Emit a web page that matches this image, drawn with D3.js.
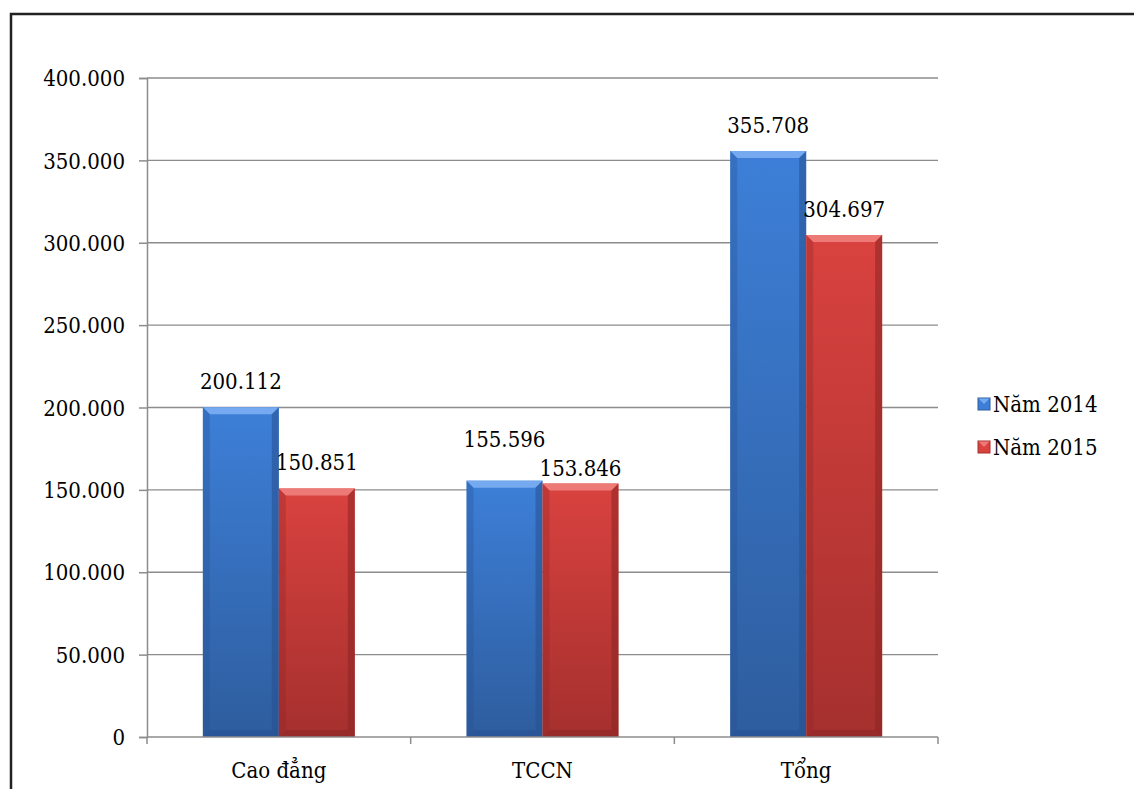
<!DOCTYPE html>
<html>
<head>
<meta charset="utf-8">
<script src="https://cdn.jsdelivr.net/npm/d3@7"></script>
<style>
  html, body { margin: 0; padding: 0; background: #fff; }
  svg { display: block; }
  svg text { font-stretch: condensed; }
</style>
</head>
<body>
<svg id="chart" width="1134" height="789"></svg>
<script>
// Số liệu tuyển sinh
const categories = ["Cao đẳng", "TCCN", "Tổng"];
const seriesNames = ["Năm 2014", "Năm 2015"];
const values2014 = [200112, 155596, 355708];
const values2015 = [150851, 153846, 304697];
const yTicks = [0, 50000, 100000, 150000, 200000, 250000, 300000, 350000, 400000];

const FONT = "'DejaVu Serif Condensed', 'DejaVu Serif', serif";
const FS = 22;

const series = [values2014, values2015];
const palette = [
  { mid: "#3d7fd8", dark: "#2e5d9e", edge: "#26508f", top: "#75aaf0" },
  { mid: "#d9423f", dark: "#a5302e", edge: "#8a2523", top: "#ee7a77" }
];

const svg = d3.select("#chart").attr("font-family", FONT);
const margin = { left: 147, right: 196, top: 78, bottom: 52 };
const W = 1134, H = 789;

// outer frame
svg.append("rect")
  .attr("x", 11).attr("y", 14)
  .attr("width", 1140).attr("height", 800)
  .attr("fill", "none").attr("stroke", "#222").attr("stroke-width", 2.5);

const x = d3.scaleBand().domain(categories)
  .range([margin.left, W - margin.right]).paddingInner(0).paddingOuter(0);
const inner = d3.scaleBand().domain(d3.range(series.length))
  .range([0, x.bandwidth()]).paddingInner(0).paddingOuter(0.735);
const y = d3.scaleLinear().domain([0, 400000]).range([H - margin.bottom, margin.top]);

const fmt = v => d3.format(",")(v).replace(/,/g, ".");

// gridlines
svg.append("g").selectAll("line").data(yTicks.filter(t => t > 0)).join("line")
  .attr("x1", margin.left).attr("x2", W - margin.right)
  .attr("y1", d => y(d)).attr("y2", d => y(d))
  .attr("stroke", "#8c8c8c").attr("stroke-width", 1.3);

// gradients
const defs = svg.append("defs");
palette.forEach((p, i) => {
  const g = defs.append("linearGradient").attr("id", "fill" + i)
    .attr("x1", 0).attr("y1", 0).attr("x2", 0).attr("y2", 1);
  g.append("stop").attr("offset", "0%").attr("stop-color", p.mid);
  g.append("stop").attr("offset", "100%").attr("stop-color", p.dark);
});

// bars with bevelled edges
const bev = 7;
const labelGap = 18;
const barsG = svg.append("g");
const labelsG = svg.append("g");
categories.forEach((c, ci) => {
  const labels = [];
  series.forEach((vals, si) => {
    const p = palette[si];
    const x0 = x(c) + inner(si), w = inner.bandwidth();
    const x1 = x0 + w;
    const yt = y(vals[ci]), yb = y(0);
    const g = barsG.append("g");
    g.append("rect").attr("x", x0).attr("y", yt).attr("width", w).attr("height", yb - yt)
      .attr("fill", `url(#fill${si})`);
    g.append("path").attr("d", `M${x0},${yt}L${x1},${yt}L${x1 - bev},${yt + bev}L${x0 + bev},${yt + bev}Z`)
      .attr("fill", p.top);
    g.append("path").attr("d", `M${x0},${yt}L${x0 + bev},${yt + bev}L${x0 + bev},${yb - bev}L${x0},${yb}Z`)
      .attr("fill", p.edge).attr("opacity", 0.3);
    g.append("path").attr("d", `M${x1},${yt}L${x1 - bev},${yt + bev}L${x1 - bev},${yb - bev}L${x1},${yb}Z`)
      .attr("fill", p.edge).attr("opacity", 0.55);
    g.append("path").attr("d", `M${x0},${yb}L${x0 + bev},${yb - bev}L${x1 - bev},${yb - bev}L${x1},${yb}Z`)
      .attr("fill", p.edge).attr("opacity", 0.5);
    const t = labelsG.append("text").attr("x", x0 + w / 2).attr("y", yt - labelGap)
      .attr("text-anchor", "middle").attr("font-size", FS)
      .attr("fill", "#000").text(fmt(vals[ci]));
    labels.push({ t, y: yt - labelGap });
  });
  // keep neighbouring value labels from colliding
  const [a, b] = labels;
  const ba = a.t.node().getBBox(), bb = b.t.node().getBBox();
  const hOverlap = ba.x + ba.width > bb.x - 2;
  const need = ba.height + 4;
  if (hOverlap && Math.abs(a.y - b.y) < need) {
    const mid = (a.y + b.y) / 2;
    const upper = a.y <= b.y ? a : b, lower = upper === a ? b : a;
    upper.t.attr("y", mid - need * 0.6);
    lower.t.attr("y", mid + need * 0.4);
  }
});

// y axis
const yAxis = d3.axisLeft(y).tickValues(yTicks).tickSize(8).tickPadding(14).tickFormat(fmt);
const ya = svg.append("g").attr("transform", `translate(${margin.left},0)`).call(yAxis);
ya.attr("font-family", FONT).attr("font-size", FS);
ya.select(".domain").attr("stroke", "#8c8c8c").attr("stroke-width", 1.5);
ya.selectAll(".tick line").attr("stroke", "#8c8c8c").attr("stroke-width", 1.5);
ya.selectAll(".tick text").attr("fill", "#000").attr("dy", "0.35em");

// x axis
const xa = svg.append("g").attr("transform", `translate(0,${y(0)})`);
xa.append("line").attr("x1", margin.left).attr("x2", W - margin.right)
  .attr("stroke", "#8c8c8c").attr("stroke-width", 1.5);
const bounds = categories.map(c => x(c)).concat([x(categories[categories.length - 1]) + x.bandwidth()]);
xa.selectAll("line.tk").data(bounds).join("line").attr("class", "tk")
  .attr("x1", d => d).attr("x2", d => d).attr("y1", 0).attr("y2", 7)
  .attr("stroke", "#8c8c8c").attr("stroke-width", 1.5);
xa.selectAll("text").data(categories).join("text")
  .attr("x", d => x(d) + x.bandwidth() / 2).attr("y", 41)
  .attr("text-anchor", "middle").attr("font-size", FS)
  .attr("fill", "#000").text(d => d);

// legend
const lg = svg.append("g").attr("transform", "translate(978,404)");
seriesNames.forEach((n, i) => {
  const p = palette[i];
  const row = lg.append("g").attr("transform", `translate(0,${i * 43})`);
  row.append("rect").attr("x", 0).attr("y", -6).attr("width", 12).attr("height", 12)
    .attr("fill", p.mid).attr("stroke", p.dark).attr("stroke-width", 1);
  row.append("path").attr("d", "M0.5,-5.5L11.5,-5.5L6,0Z").attr("fill", p.top);
  row.append("text").attr("x", 15).attr("y", 0).attr("dy", "0.35em")
    .attr("font-size", FS).attr("fill", "#000").text(n);
});
</script>
</body>
</html>
